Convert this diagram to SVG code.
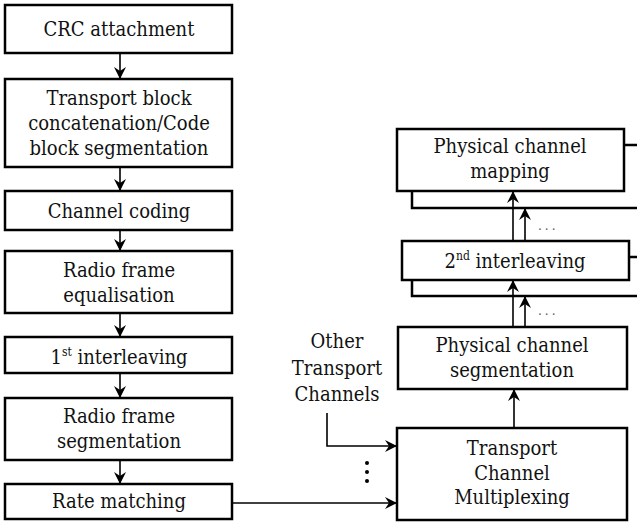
<svg xmlns="http://www.w3.org/2000/svg" width="637" height="523" viewBox="0 0 637 523">
<style>
.box{fill:#fff;stroke:#000;stroke-width:2.5}
.back{fill:#fff;stroke:#000;stroke-width:2.5}
.lbl{font-family:"DejaVu Serif Condensed","DejaVu Serif",serif;font-stretch:condensed;font-size:20px;fill:#111;text-anchor:middle}
.con{fill:none;stroke:#000;stroke-width:1.6}
.dots{font-family:"DejaVu Serif",serif;font-size:12px;fill:#555;letter-spacing:3px}
</style>
<defs>
<marker id="ah" viewBox="0 0 12 12" refX="11" refY="6" markerWidth="12" markerHeight="12" markerUnits="userSpaceOnUse" orient="auto">
<path d="M0,0 L12,6 L0,12 L4,6 z" fill="#000"/>
</marker>
</defs>
<rect width="637" height="523" fill="#fff"/>

<g id="crc"><rect class="box" x="5" y="5" width="227" height="48"/><text class="lbl" x="119" y="36">CRC attachment</text></g>
<g id="tbc"><rect class="box" x="5" y="79" width="227" height="88"/><text class="lbl" x="119" y="105">Transport block</text><text class="lbl" x="119" y="130">concatenation/Code</text><text class="lbl" x="119" y="155">block segmentation</text></g>
<g id="cc"><rect class="box" x="5" y="191" width="227" height="39"/><text class="lbl" x="119" y="218">Channel coding</text></g>
<g id="rfe"><rect class="box" x="5" y="251" width="227" height="62"/><text class="lbl" x="119" y="277">Radio frame</text><text class="lbl" x="119" y="302">equalisation</text></g>
<g id="il1"><rect class="box" x="5" y="337" width="227" height="36"/><text class="lbl" x="119" y="364">1<tspan font-size="12" dy="-8">st</tspan><tspan dy="8"> interleaving</tspan></text></g>
<g id="rfs"><rect class="box" x="5" y="398" width="227" height="62"/><text class="lbl" x="119" y="423">Radio frame</text><text class="lbl" x="119" y="448">segmentation</text></g>
<g id="rm"><rect class="box" x="5" y="484" width="227" height="35"/><text class="lbl" x="119" y="508">Rate matching</text></g>

<g id="pcm"><rect class="back" x="412" y="145" width="240" height="63"/><rect class="box" x="397" y="129" width="227" height="62"/><text class="lbl" x="510" y="153">Physical channel</text><text class="lbl" x="510" y="178">mapping</text></g>
<g id="il2"><rect class="back" x="412" y="257" width="240" height="39"/><rect class="box" x="402" y="241" width="227" height="39"/><text class="lbl" x="515" y="268">2<tspan font-size="12" dy="-8">nd</tspan><tspan dy="8"> interleaving</tspan></text></g>
<g id="pcs"><rect class="box" x="398" y="327" width="229" height="62"/><text class="lbl" x="512" y="352">Physical channel</text><text class="lbl" x="512" y="377">segmentation</text></g>
<g id="tcm"><rect class="box" x="397" y="428" width="230" height="92"/><text class="lbl" x="512" y="455">Transport</text><text class="lbl" x="512" y="480">Channel</text><text class="lbl" x="512" y="504">Multiplexing</text></g>
<g id="otc"><text class="lbl" x="337" y="348">Other</text><text class="lbl" x="337" y="375">Transport</text><text class="lbl" x="337" y="401">Channels</text></g>

<g id="connectors">
<line class="con" x1="120" y1="53" x2="120" y2="78" marker-end="url(#ah)"/>
<line class="con" x1="120" y1="167" x2="120" y2="190" marker-end="url(#ah)"/>
<line class="con" x1="120" y1="230" x2="120" y2="250" marker-end="url(#ah)"/>
<line class="con" x1="120" y1="313" x2="120" y2="336" marker-end="url(#ah)"/>
<line class="con" x1="120" y1="373" x2="120" y2="397" marker-end="url(#ah)"/>
<line class="con" x1="120" y1="460" x2="120" y2="483" marker-end="url(#ah)"/>
<line class="con" x1="232" y1="503" x2="396" y2="503" marker-end="url(#ah)"/>
<path class="con" d="M327,413 V446 H396" marker-end="url(#ah)"/>
<line class="con" x1="514" y1="428" x2="514" y2="390" marker-end="url(#ah)"/>
<line class="con" x1="513" y1="327" x2="513" y2="281" marker-end="url(#ah)"/>
<line class="con" x1="525" y1="327" x2="525" y2="297" marker-end="url(#ah)"/>
<line class="con" x1="513" y1="241" x2="513" y2="192" marker-end="url(#ah)"/>
<line class="con" x1="525" y1="241" x2="525" y2="209" marker-end="url(#ah)"/>
<text class="dots" x="538" y="230">...</text>
<text class="dots" x="538" y="315">...</text>
<circle cx="367" cy="463" r="2" fill="#000"/>
<circle cx="367" cy="472" r="2" fill="#000"/>
<circle cx="367" cy="481" r="2" fill="#000"/>
</g>
</svg>
